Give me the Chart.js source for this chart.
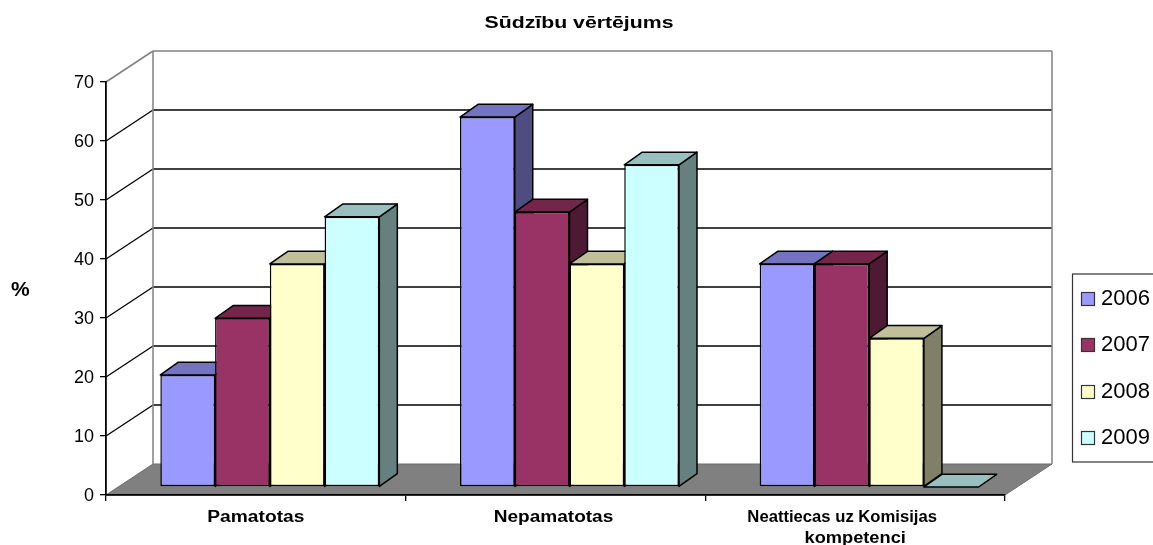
<!DOCTYPE html>
<html><head><meta charset="utf-8">
<style>html,body{margin:0;padding:0;background:#fff;overflow:hidden}canvas{display:block}</style>
<script src="https://cdn.jsdelivr.net/npm/chart.js@4"></script>
</head><body>
<canvas id="c" width="1153" height="545"></canvas>
<script>
const categories = ['Pamatotas', 'Nepamatotas', ['Neattiecas uz Komisijas', 'kompetenci']];
const seriesNames = ['2006', '2007', '2008', '2009'];
const values2006 = [19, 62.7, 37.8];
const values2007 = [28.6, 46.6, 37.8];
const values2008 = [37.8, 37.8, 25.2];
const values2009 = [45.8, 54.6, 0];
const yTicks = [0, 10, 20, 30, 40, 50, 60, 70];
const chartTitle = 'Sūdzību vērtējums';
const yAxisTitle = '%';

const fills = ['#9999FF', '#993366', '#FFFFCC', '#CCFFFF'];
const tops = ['#7373BF', '#732649', '#BFBF99', '#99BFBF'];
const sides = ['#4D4D80', '#4D1933', '#808066', '#668080'];
const FONT = '"Liberation Sans", Arial, sans-serif';
const WALL = {dx: 47, dy: -31};
const BAR_SHIFT = {dx: 14, dy: -8};
const BAR_DEPTH = {dx: 18, dy: -12.7};
// horizontal stretch and offset of each x label line, as in the reference
const labelLineStyle = [
  [{sx: 1.2, off: 0}],
  [{sx: 1.19, off: -2}],
  [{sx: 1.04, off: -13}, {sx: 1.14, off: 0}]
];

function poly(ctx, pts, fill, stroke, lw) {
  ctx.beginPath();
  pts.forEach((p, i) => i ? ctx.lineTo(p[0], p[1]) : ctx.moveTo(p[0], p[1]));
  ctx.closePath();
  if (fill) { ctx.fillStyle = fill; ctx.fill(); }
  if (stroke) { ctx.strokeStyle = stroke; ctx.lineWidth = lw; ctx.stroke(); }
}
function seg(ctx, x1, y1, x2, y2, c, lw) {
  ctx.beginPath(); ctx.moveTo(x1, y1); ctx.lineTo(x2, y2);
  ctx.strokeStyle = c; ctx.lineWidth = lw; ctx.stroke();
}

const scene = {
  id: 'scene',
  afterLayout(chart) {
    const tb = chart.titleBlock, ctx = chart.ctx;
    tb.left = 0; tb.right = 1158;
    if (!tb._wrapped) {
      const draw = tb.draw;
      tb.draw = function () {
        ctx.save();
        ctx.translate(579, 0); ctx.scale(1.25, 1); ctx.translate(-579, 0);
        draw.call(this);
        ctx.restore();
      };
      tb._wrapped = true;
    }
    const x = chart.scales.x;
    x.drawLabels = function (area) {
      const items = this.getLabelItems(area);
      ctx.save();
      ctx.fillStyle = '#000'; ctx.textAlign = 'center'; ctx.textBaseline = 'alphabetic';
      items.forEach((item, i) => {
        ctx.font = item.font.string;
        const lines = Array.isArray(item.label) ? item.label : [item.label];
        lines.forEach((line, j) => {
          const st = labelLineStyle[i][j];
          ctx.save();
          ctx.translate(item.options.translation[0] + st.off, this.top + 27 + j * 21);
          ctx.scale(st.sx, 1);
          ctx.fillText(line, 0, 0);
          ctx.restore();
        });
      });
      ctx.restore();
    };
  },
  beforeDraw(chart) {
    const {ctx, scales: {x, y}} = chart;
    const L = x.left, R = x.right, B = y.getPixelForValue(0), T = y.getPixelForValue(70);
    // tick labels sit slightly below their ticks in the reference
    y.getLabelItems(chart.chartArea).forEach(it => {
      if (!it._moved) { it.options.translation[1] += 1.5; it._moved = true; }
    });
    ctx.save();
    poly(ctx, [[L, B], [R, B], [R + WALL.dx, B + WALL.dy], [L + WALL.dx, B + WALL.dy]], '#808080', '#6e6e6e', 1);
    yTicks.forEach(v => {
      const p = y.getPixelForValue(v);
      if (v === 0) return;
      const c = v === 70 ? '#808080' : '#000';
      seg(ctx, L, p, L + WALL.dx, p + WALL.dy, c, v === 70 ? 1.5 : 1.3);
      seg(ctx, L + WALL.dx, p + WALL.dy, R + WALL.dx, p + WALL.dy, c, v === 70 ? 1.5 : 1.3);
    });
    seg(ctx, L + WALL.dx, T + WALL.dy, L + WALL.dx, B + WALL.dy, '#808080', 1.5);
    seg(ctx, R + WALL.dx, T + WALL.dy, R + WALL.dx, B + WALL.dy, '#808080', 1.5);
    ctx.restore();
  },
  // datasets are painted left to right so each bar covers its neighbour's side face
  beforeDatasetDraw() { return false; },
  afterDatasetsDraw(chart) {
    const ctx = chart.ctx;
    chart.data.datasets.forEach((d, i) => {
      const meta = chart.getDatasetMeta(i);
      ctx.save();
      ctx.translate(BAR_SHIFT.dx, BAR_SHIFT.dy);
      ctx.lineJoin = 'round';
      meta.data.forEach(el => {
        const p = el.getProps(['x', 'y', 'base', 'width'], true);
        const l = p.x - p.width / 2, r = p.x + p.width / 2, t = p.y, b = p.base;
        const dx = BAR_DEPTH.dx, dy = BAR_DEPTH.dy;
        if (b - t > 0.5) poly(ctx, [[r, t], [r + dx, t + dy], [r + dx, b + dy], [r, b]], sides[i], '#000', 1.5);
        poly(ctx, [[l, t], [l + dx, t + dy], [r + dx, t + dy], [r, t]], tops[i], '#000', 1.5);
      });
      meta.controller.draw();
      ctx.restore();
    });
  },
  afterDraw(chart) {
    const ctx = chart.ctx;
    ctx.save();
    ctx.fillStyle = '#000';
    ctx.textBaseline = 'middle'; ctx.textAlign = 'left';
    ctx.font = 'bold 21px ' + FONT;
    ctx.fillText(yAxisTitle, 11, 290);
    ctx.strokeStyle = '#333'; ctx.lineWidth = 1.2;
    ctx.strokeRect(1072.5, 274, 100, 188);
    const rowY = [299, 345, 392, 438];
    ctx.font = '22px ' + FONT;
    chart.data.datasets.forEach((d, i) => {
      ctx.fillStyle = d.backgroundColor;
      ctx.fillRect(1081.5, rowY[i] - 6.5, 13, 13);
      ctx.strokeStyle = '#333'; ctx.lineWidth = 1.2;
      ctx.strokeRect(1081.5, rowY[i] - 6.5, 13, 13);
      ctx.fillStyle = '#000';
      ctx.fillText(d.label, 1101, rowY[i]);
    });
    ctx.restore();
  }
};

const seriesValues = [values2006, values2007, values2008, values2009];
new Chart(document.getElementById('c'), {
  type: 'bar',
  data: {
    labels: categories,
    datasets: seriesNames.map((name, i) => ({
      label: name,
      data: seriesValues[i],
      backgroundColor: fills[i],
      borderColor: '#000',
      borderWidth: 1.5,
      borderSkipped: false,
      categoryPercentage: 0.7308,
      barPercentage: 1
    }))
  },
  options: {
    responsive: false,
    animation: false,
    layout: {padding: {left: 0, right: 148, top: 0, bottom: 0}},
    plugins: {
      legend: {display: false},
      tooltip: {enabled: false},
      title: {
        display: true, text: chartTitle, color: '#000',
        font: {family: FONT, size: 17, weight: 'bold', lineHeight: '18px'},
        padding: {top: 14, bottom: 50}
      }
    },
    scales: {
      x: {
        offset: true,
        afterFit(s) { s.height = 50; },
        grid: {drawOnChartArea: false, drawTicks: true, tickLength: 6, color: '#000', lineWidth: 1.3, offset: true},
        border: {display: true, color: '#000', width: 1.8},
        ticks: {color: '#000', autoSkip: false, maxRotation: 0, minRotation: 0, padding: 8,
          font: {family: FONT, size: 16, weight: 'bold', lineHeight: 1.3}}
      },
      y: {
        min: 0, max: 70,
        afterFit(s) { s.width = 106; },
        grid: {drawOnChartArea: false, drawTicks: true, tickLength: 6, color: '#000', lineWidth: 1.3},
        border: {display: true, color: '#000', width: 1.8},
        ticks: {color: '#000', stepSize: 10, padding: 6, font: {family: FONT, size: 18}}
      }
    }
  },
  plugins: [scene]
});
</script>
</body></html>
